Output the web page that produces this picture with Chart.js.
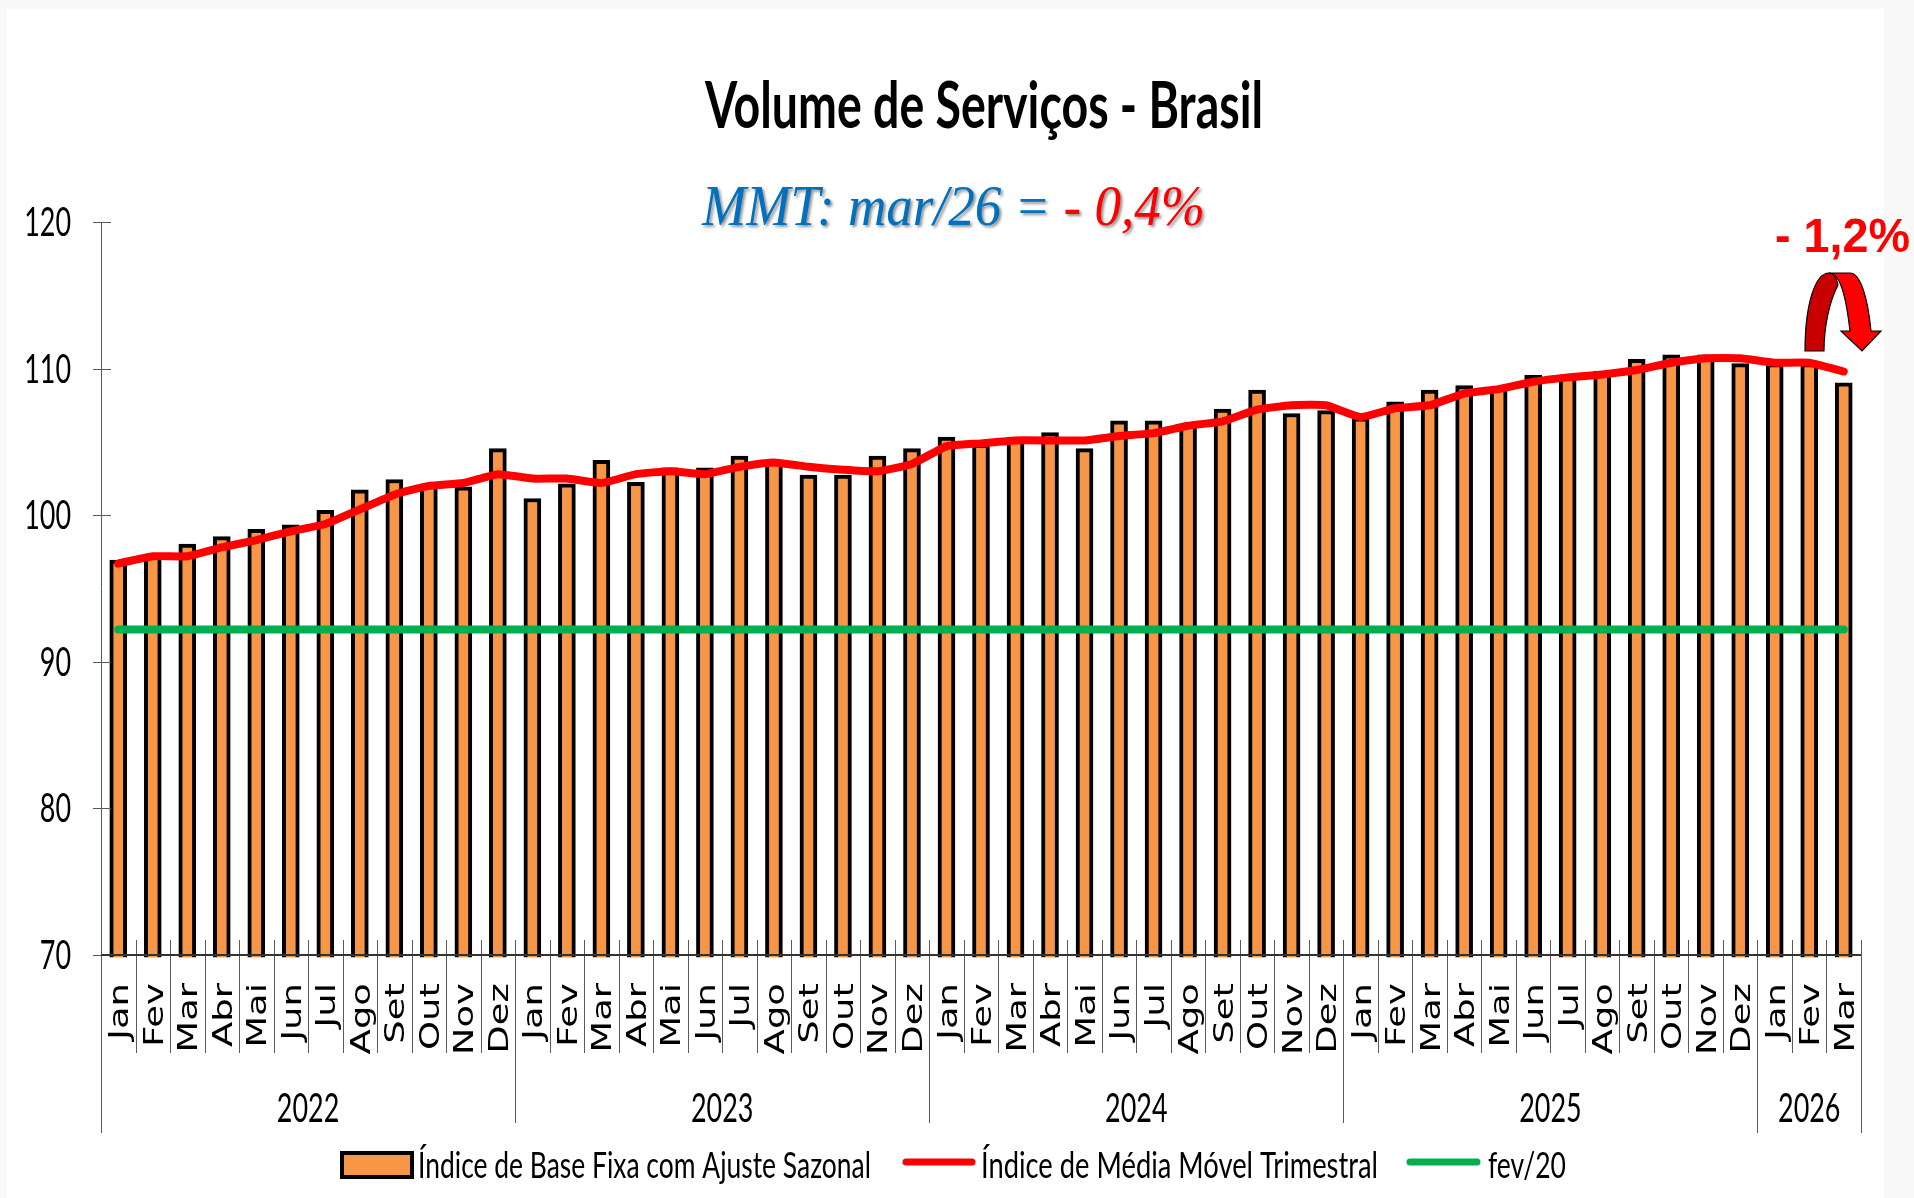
<!DOCTYPE html>
<html lang="pt-BR">
<head>
<meta charset="utf-8">
<title>Volume de Serviços - Brasil</title>
<script src="https://cdn.jsdelivr.net/npm/chart.js@4"></script>
<style>
  html, body { margin: 0; padding: 0; background: #f9f9f9; }
  canvas { display: block; }
</style>
</head>
<body>
<canvas id="chart" width="1914" height="1198"></canvas>
<script>
'use strict';

// ── Data ──────────────────────────────────────────────────────────────
const months = [
  'Jan','Fev','Mar','Abr','Mai','Jun','Jul','Ago','Set','Out','Nov','Dez',
  'Jan','Fev','Mar','Abr','Mai','Jun','Jul','Ago','Set','Out','Nov','Dez',
  'Jan','Fev','Mar','Abr','Mai','Jun','Jul','Ago','Set','Out','Nov','Dez',
  'Jan','Fev','Mar','Abr','Mai','Jun','Jul','Ago','Set','Out','Nov','Dez',
  'Jan','Fev','Mar'
];
const years = ['2022','2023','2024','2025','2026'];
const monthsPerYear = [12, 12, 12, 12, 3];
const yTicks = [70, 80, 90, 100, 110, 120];

const indiceBase = [
  96.8, 97.2, 97.9, 98.4, 98.9, 99.2, 100.2, 101.6, 102.3, 102.0, 101.8, 104.4,
  101.0, 102.0, 103.6, 102.1, 103.1, 103.1, 103.9, 103.6, 102.6, 102.6, 103.9, 104.4,
  105.2, 104.7, 105.2, 105.5, 104.4, 106.3, 106.3, 106.0, 107.1, 108.4, 106.8, 107.0,
  106.5, 107.6, 108.4, 108.7, 108.6, 109.4, 109.4, 109.7, 110.5, 110.8, 110.8, 110.2,
  110.2, 110.2, 108.9
];
const mediaMovel = [
  96.7, 97.2, 97.2, 97.8, 98.3, 98.9, 99.4, 100.4, 101.4, 102.0, 102.2, 102.8,
  102.5, 102.5, 102.2, 102.8, 103.0, 102.8, 103.3, 103.6, 103.3, 103.1, 103.0, 103.5,
  104.7, 104.9, 105.1, 105.1, 105.1, 105.4, 105.6, 106.1, 106.4, 107.2, 107.5, 107.5,
  106.7, 107.3, 107.5, 108.3, 108.6, 109.1, 109.4, 109.6, 109.9, 110.4, 110.7, 110.7,
  110.4, 110.4, 109.8
];
const fev20 = [
  92.2, 92.2, 92.2, 92.2, 92.2, 92.2, 92.2, 92.2, 92.2, 92.2, 92.2, 92.2,
  92.2, 92.2, 92.2, 92.2, 92.2, 92.2, 92.2, 92.2, 92.2, 92.2, 92.2, 92.2,
  92.2, 92.2, 92.2, 92.2, 92.2, 92.2, 92.2, 92.2, 92.2, 92.2, 92.2, 92.2,
  92.2, 92.2, 92.2, 92.2, 92.2, 92.2, 92.2, 92.2, 92.2, 92.2, 92.2, 92.2,
  92.2, 92.2, 92.2
];

const ORANGE = '#F79646', RED = '#FF0000', GREEN = '#00B050', BLUE = '#0070C0';

// ── Text helpers (the reference text is squeezed or stretched) ────────
function fitText(ctx, text, x, y, font, width, color) {
  ctx.save();
  ctx.font = font;
  ctx.fillStyle = color || '#000';
  ctx.textAlign = 'left';
  ctx.textBaseline = 'alphabetic';
  const sx = width / ctx.measureText(text).width;
  ctx.translate(x, y);
  ctx.scale(sx, 1);
  ctx.fillText(text, 0, 0);
  ctx.restore();
}

function numText(ctx, text, x, y, align) {
  const w = text.length * 15.6;
  const left = align === 'right' ? x - w : x - w / 2;
  fitText(ctx, text, left, y, '40px Lato', w);
}

// ── Plugins ───────────────────────────────────────────────────────────
const panel = {
  id: 'panel',
  beforeDraw(chart) {
    const { ctx, width, height } = chart;
    ctx.save();
    ctx.fillStyle = '#f9f9f9';
    ctx.fillRect(0, 0, width, height);
    ctx.fillStyle = '#ffffff';
    ctx.fillRect(7, 9, 1877, height - 9);
    ctx.restore();
  }
};

// chart.js keeps the bar border inside the box, this centres the top edge on the value
const barShift = {
  id: 'barShift',
  beforeDatasetDraw(chart, args) {
    if (args.index !== 0) return;
    chart.ctx.save();
    chart.ctx.translate(0, -2);
  },
  afterDatasetDraw(chart, args) {
    if (args.index === 0) chart.ctx.restore();
  }
};

const axesAndText = {
  id: 'axesAndText',
  afterDatasetsDraw(chart) {
    const { ctx, chartArea: a, scales: { x, y } } = chart;
    const step = a.width / months.length;
    ctx.save();

    // y axis, crossing ticks and labels
    ctx.strokeStyle = '#5a5a5a';
    ctx.lineWidth = 1;
    ctx.beginPath();
    ctx.moveTo(a.left + 0.5, a.top);
    ctx.lineTo(a.left + 0.5, a.bottom);
    yTicks.forEach(v => {
      const py = Math.round(y.getPixelForValue(v)) + 0.5;
      ctx.moveTo(a.left - 8, py);
      ctx.lineTo(a.left + 10, py);
    });
    ctx.stroke();
    yTicks.forEach(v => numText(ctx, String(v), 71, y.getPixelForValue(v) + 14, 'right'));

    // month separators
    ctx.beginPath();
    for (let i = 0; i <= months.length; i++) {
      const px = Math.round(x.getPixelForValue(0) - step / 2 + i * step) + 0.5;
      ctx.moveTo(px, a.bottom - 15);
      ctx.lineTo(px, a.bottom + 98);
    }
    ctx.stroke();

    // x axis
    ctx.strokeStyle = '#333';
    ctx.lineWidth = 2;
    ctx.beginPath();
    ctx.moveTo(a.left, a.bottom);
    ctx.lineTo(a.right, a.bottom);
    ctx.stroke();

    // month labels, stretched along the text
    months.forEach((m, i) => {
      ctx.save();
      ctx.translate(x.getPixelForValue(i) + 3, a.bottom + 28);
      ctx.rotate(-Math.PI / 2);
      ctx.scale(1.37, 1);
      ctx.font = '27px "DejaVu Sans"';
      ctx.fillStyle = '#000';
      ctx.textAlign = 'right';
      ctx.textBaseline = 'middle';
      ctx.fillText(m, 0, 0);
      ctx.restore();
    });

    // year separators and labels
    ctx.strokeStyle = '#5a5a5a';
    ctx.lineWidth = 1;
    let start = 0;
    monthsPerYear.forEach((n, i) => {
      const px0 = x.getPixelForValue(start) - step / 2;
      const long = i === 0 || i === years.length - 1;
      ctx.beginPath();
      ctx.moveTo(Math.round(px0) + 0.5, a.bottom + 98);
      ctx.lineTo(Math.round(px0) + 0.5, a.bottom + (long ? 178 : 168));
      if (i === years.length - 1) {
        const end = Math.round(px0 + n * step) + 0.5;
        ctx.moveTo(end, a.bottom + 98);
        ctx.lineTo(end, a.bottom + 178);
      }
      ctx.stroke();
      numText(ctx, years[i], px0 + n * step / 2, a.bottom + 167, 'center');
      start += n;
    });

    // title and subtitle
    fitText(ctx, 'Volume de Serviços - Brasil', 705, 128, 'bold 65px Lato', 558);
    const subFont = 'italic 56px "Liberation Serif"';
    ctx.font = subFont;
    const partA = 'MMT: mar/26 = ', partB = '- 0,4%';
    const sx = 503 / ctx.measureText(partA + partB).width;
    const wA = ctx.measureText(partA).width * sx, wB = ctx.measureText(partB).width * sx;
    ctx.save();
    ctx.shadowColor = 'rgba(0,0,0,0.45)';
    ctx.shadowOffsetX = 2;
    ctx.shadowOffsetY = 2;
    ctx.shadowBlur = 3;
    fitText(ctx, partA, 702, 225, subFont, wA, BLUE);
    fitText(ctx, partB, 702 + wA, 225, subFont, wB, RED);
    ctx.restore();

    // monthly change callout
    fitText(ctx, '- 1,2%', 1775, 252, 'bold 48px "Liberation Sans"', 135, RED);
    ctx.lineWidth = 1.2;
    ctx.strokeStyle = '#000';
    ctx.fillStyle = '#C80000';
    ctx.beginPath();
    ctx.moveTo(1805, 351);
    ctx.bezierCurveTo(1805, 305, 1815, 273, 1829, 273);
    ctx.bezierCurveTo(1834, 273, 1837, 279, 1838, 285);
    ctx.bezierCurveTo(1830, 300, 1824, 325, 1824, 351);
    ctx.closePath();
    ctx.fill();
    ctx.stroke();
    ctx.fillStyle = RED;
    ctx.beginPath();
    ctx.moveTo(1829, 273);
    ctx.lineTo(1850, 273);
    ctx.bezierCurveTo(1861, 273, 1868, 300, 1871, 331);
    ctx.lineTo(1881, 331);
    ctx.lineTo(1862, 351);
    ctx.lineTo(1841, 331);
    ctx.lineTo(1850, 331);
    ctx.bezierCurveTo(1847, 305, 1842, 273, 1829, 273);
    ctx.closePath();
    ctx.fill();
    ctx.stroke();

    // legend
    ctx.fillStyle = ORANGE;
    ctx.strokeStyle = '#000';
    ctx.lineWidth = 4;
    ctx.fillRect(342, 1153, 70, 24);
    ctx.strokeRect(342, 1153, 70, 24);
    fitText(ctx, 'Índice de Base Fixa com Ajuste Sazonal', 418, 1178, '37px Lato', 453);
    ctx.lineCap = 'round';
    ctx.lineWidth = 7;
    ctx.strokeStyle = RED;
    ctx.beginPath();
    ctx.moveTo(906, 1162);
    ctx.lineTo(972, 1162);
    ctx.stroke();
    fitText(ctx, 'Índice de Média Móvel Trimestral', 981, 1178, '37px Lato', 397);
    ctx.strokeStyle = GREEN;
    ctx.beginPath();
    ctx.moveTo(1410, 1162);
    ctx.lineTo(1477, 1162);
    ctx.stroke();
    fitText(ctx, 'fev/20', 1488, 1178, '37px Lato', 78);

    ctx.restore();
  }
};

// ── Chart ─────────────────────────────────────────────────────────────
new Chart(document.getElementById('chart').getContext('2d'), {
  type: 'bar',
  data: {
    labels: months,
    datasets: [
      {
        label: 'Índice de Base Fixa com Ajuste Sazonal',
        data: indiceBase,
        backgroundColor: ORANGE,
        borderColor: '#000',
        borderWidth: 4,
        barThickness: 17,
        base: 69.7,
        clip: false,
        order: 2
      },
      {
        type: 'line',
        label: 'Índice de Média Móvel Trimestral',
        data: mediaMovel,
        borderColor: RED,
        borderWidth: 8,
        borderCapStyle: 'round',
        borderJoinStyle: 'round',
        pointRadius: 0,
        tension: 0.15,
        order: 0
      },
      {
        type: 'line',
        label: 'fev/20',
        data: fev20,
        borderColor: GREEN,
        borderWidth: 8,
        borderCapStyle: 'round',
        pointRadius: 0,
        order: 1
      }
    ]
  },
  options: {
    responsive: false,
    animation: false,
    layout: { padding: { left: 101, right: 53, top: 222, bottom: 243 } },
    scales: {
      x: {
        grid: { display: false }, border: { display: false }, ticks: { display: false },
        afterFit(s) { s.height = 0; }
      },
      y: {
        min: 70, max: 120,
        ticks: { display: false, stepSize: 10 },
        grid: { display: false },
        border: { display: false },
        afterFit(s) { s.width = 0; }
      }
    },
    plugins: { legend: { display: false }, tooltip: { enabled: false } }
  },
  plugins: [panel, barShift, axesAndText]
});
</script>
</body>
</html>
